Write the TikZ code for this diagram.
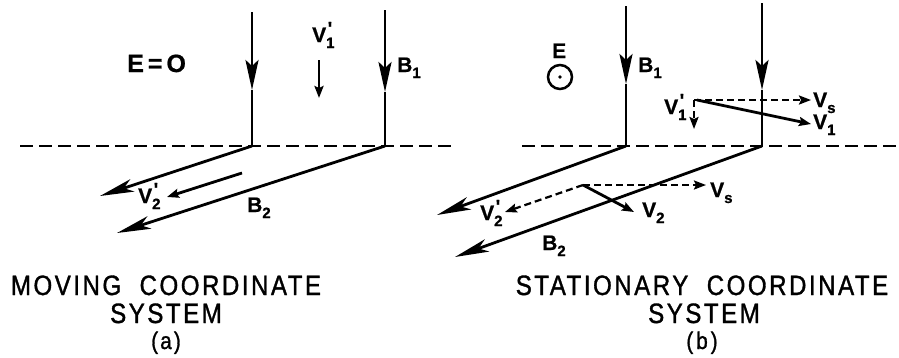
\documentclass[tikz,border=0pt]{standalone}
\usepackage{fontspec}
\setmainfont{Liberation Sans}
\newfontfamily\capfont[FakeStretch=0.86,LetterSpace=9,FakeBold=1.2]{Liberation Sans}
\newfontfamily\labfont[FakeBold=0.8]{Liberation Sans Bold}
\usetikzlibrary{arrows.meta}
\newcommand{\sbs}[2]{\begingroup\fontsize{15}{15}\selectfont\rlap{\raisebox{-6pt}{#1}}\rlap{\kern1.5pt\raisebox{7pt}{\fontsize{19}{19}\selectfont #2}}\hphantom{#1}\endgroup}
\begin{document}
\begin{tikzpicture}[x=1pt,y=-1pt,
  main/.style={line width=2.8pt},
  hdash/.style={line width=2.3pt,dash pattern=on 13pt off 6pt},
  sdash/.style={line width=2.2pt,dash pattern=on 7pt off 4pt},
  vhead/.style={-{Stealth[length=30pt,width=13pt,inset=6pt]}},
  ohead/.style={-{Stealth[length=34pt,width=13pt,inset=9pt]}},
  shead/.style={-{Stealth[length=12pt,width=9pt,inset=2pt]}},
  lab/.style={anchor=base west,inner sep=0pt,font=\labfont\fontsize{21}{21}\selectfont},
  captxt/.style={anchor=base,inner sep=0pt,font=\capfont\fontsize{28}{28}\selectfont}]
\useasboundingbox (0,0) rectangle (899,357);

% ---------- panel (a) ----------
\coordinate (T1a) at (252,12);
\coordinate (H1a) at (252,90);
\coordinate (P1a) at (252,146);
\coordinate (T2a) at (385,10);
\coordinate (H2a) at (385,92);
\coordinate (P2a) at (385,146);
\coordinate (E1a) at (100,196);
\coordinate (E2a) at (117,233);
\coordinate (DLa) at (20,146);
\coordinate (DRa) at (455,146);

\draw[hdash] (DLa) -- (DRa);
\draw[main,vhead] (T1a) -- (H1a);
\draw[main] (H1a) -- (P1a);
\draw[main,vhead] (T2a) -- (H2a);
\draw[main] (H2a) -- (P2a);
\draw[main,ohead] (P1a) -- (E1a);
\draw[main,ohead] (P2a) -- (E2a);

\coordinate (v1s) at (319,60);
\coordinate (v1e) at (319,98);
\draw[main,shead] (v1s) -- (v1e);
\coordinate (v2s) at (242,173);
\coordinate (v2e) at (167,197);
\draw[main,shead] (v2s) -- (v2e);

\node[lab,font=\labfont\fontsize{25}{25}\selectfont] (Ea) at (127,72) {E\kern4pt=\kern4pt O};
\node[lab] (V1pa) at (312,42) {V\sbs{1}{'}};
\node[lab] (B1a) at (397,72) {B\sbs{1}{}};
\node[lab] (V2pa) at (138,203) {V\sbs{2}{'}};
\node[lab] (B2a) at (247,212) {B\sbs{2}{}};

% ---------- panel (b) ----------
\coordinate (T1b) at (626,6);
\coordinate (H1b) at (626,84);
\coordinate (P1b) at (626,146);
\coordinate (T2b) at (762,3);
\coordinate (H2b) at (762,90);
\coordinate (P2b) at (762,146);
\coordinate (E1b) at (437,215);
\coordinate (E2b) at (455,257);
\coordinate (DLb) at (522,146);
\coordinate (DRb) at (899,146);

\draw[hdash] (DLb) -- (DRb);
\draw[main,vhead] (T1b) -- (H1b);
\draw[main] (H1b) -- (P1b);
\draw[main,vhead] (T2b) -- (H2b);
\draw[main] (H2b) -- (P2b);
\draw[main,ohead] (P1b) -- (E1b);
\draw[main,ohead] (P2b) -- (E2b);

\node[lab] (Eb) at (552,58) {E};
\node[circle,draw,line width=2.5pt,minimum size=24pt,inner sep=0pt] (Ecirc) at (560,77) {};
\fill (Ecirc.center) circle (1.8pt);

% upper velocity triangle
\coordinate (O1) at (694,100);
\coordinate (Vs1) at (811,100);
\coordinate (V1e) at (811,124);
\coordinate (V1pe) at (694,129);
\coordinate (O1b) at (697,100);
\draw[sdash,shead] (O1) -- (Vs1);
\draw[main,shead] (O1b) -- (V1e);
\draw[sdash,shead] (O1) -- (V1pe);
\node[lab] (V1pb) at (664,114) {V\sbs{1}{'}};
\node[lab] (Vs1l) at (813,107) {V\sbs{s}{}};
\node[lab] (V1l) at (813,129) {V\sbs{1}{}};

% lower velocity triangle
\coordinate (O2) at (583,185);
\coordinate (Vs2) at (706,185);
\coordinate (V2e) at (634,212);
\coordinate (V2pe) at (505,212);
\draw[sdash,shead] (O2) -- (Vs2);
\draw[main,shead] (O2) -- (V2e);
\draw[sdash,shead] (O2) -- (V2pe);
\node[lab] (Vs2l) at (710,197) {V\sbs{s}{}};
\node[lab] (V2l) at (642,217) {V\sbs{2}{}};
\node[lab] (V2pb) at (480,220) {V\sbs{2}{'}};

\node[lab] (B1b) at (638,72) {B\sbs{1}{}};
\node[lab] (B2b) at (542,250) {B\sbs{2}{}};

% ---------- captions ----------
\node[captxt] (ca1) at (166,295) {MOVING\ \ COORDINATE};
\node[captxt] (ca2) at (166,323) {SYSTEM};
\node[captxt,font=\capfont\fontsize{24}{24}\selectfont] (ca3) at (166,349) {(a)};
\node[captxt] (cb1) at (702,295) {STATIONARY\ \ COORDINATE};
\node[captxt] (cb2) at (704,323) {SYSTEM};
\node[captxt,font=\capfont\fontsize{24}{24}\selectfont] (cb3) at (702,349) {(\kern3pt b\kern3pt)};
\end{tikzpicture}
\end{document}
